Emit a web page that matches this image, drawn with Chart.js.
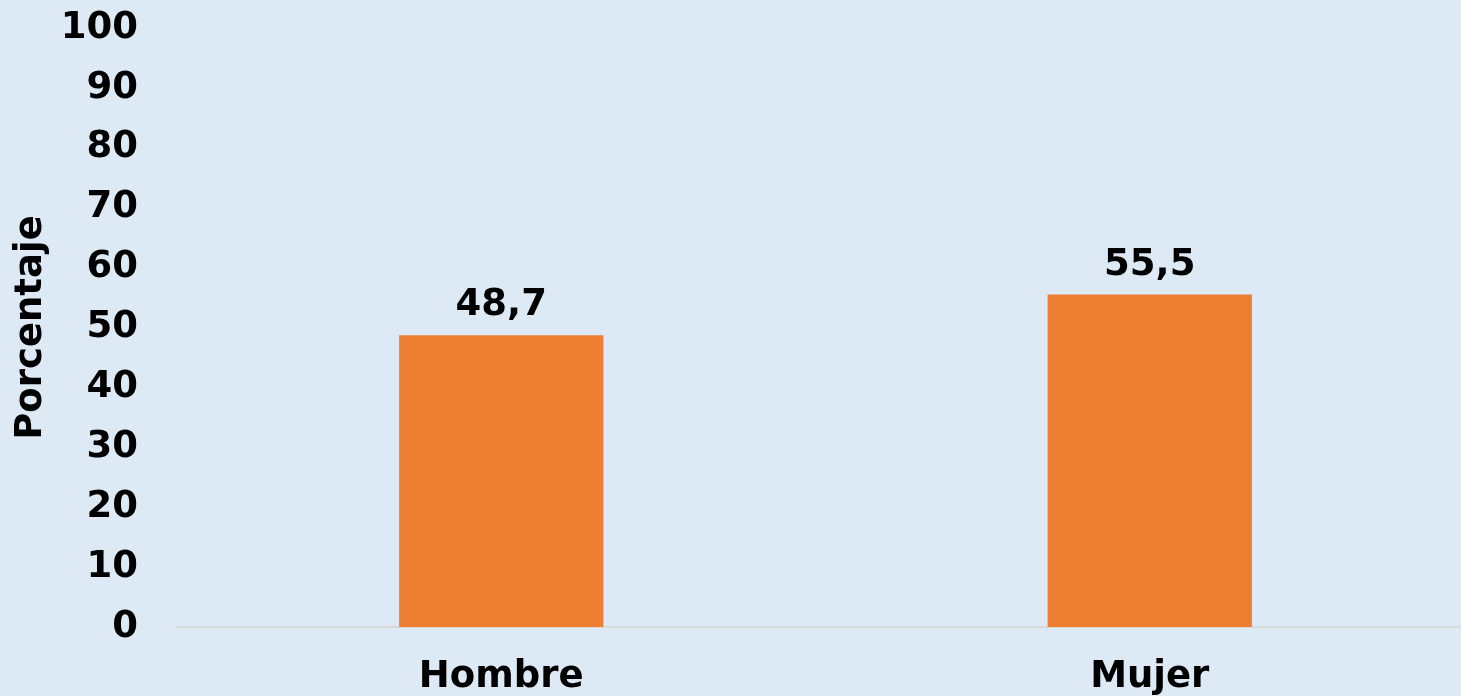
<!DOCTYPE html>
<html>
<head>
<meta charset="utf-8">
<script src="https://cdn.jsdelivr.net/npm/chart.js@4"></script>
<style>
  html, body { margin: 0; padding: 0; overflow: hidden; background: #DDEAF6; }
  #wrap { width: 1474px; height: 696px; }
</style>
</head>
<body>
<div id="wrap"><canvas id="chart"></canvas></div>
<script>
// datos
const categories = ["Hombre", "Mujer"];
const values = [48.7, 55.5];
const yTicks = [0, 10, 20, 30, 40, 50, 60, 70, 80, 90, 100];

const FONT = "'DejaVu Sans', Verdana, sans-serif";

// etiquetas encima de las barras
const valueLabels = {
  id: "valueLabels",
  afterDatasetsDraw(chart) {
    const ctx = chart.ctx;
    const meta = chart.getDatasetMeta(0);
    ctx.save();
    ctx.font = "bold 37px " + FONT;
    ctx.fillStyle = "#000";
    ctx.textAlign = "center";
    ctx.textBaseline = "alphabetic";
    meta.data.forEach((bar, i) => {
      ctx.fillText(values[i].toFixed(1).replace(".", ","), bar.x, bar.y - 20);
    });
    ctx.restore();
  }
};

new Chart(document.getElementById("chart"), {
  type: "bar",
  data: {
    labels: categories,
    datasets: [{
      data: values,
      backgroundColor: "#ED7D31",
      categoryPercentage: 1,
      barPercentage: 0.315
    }]
  },
  options: {
    responsive: true,
    maintainAspectRatio: false,
    animation: false,
    layout: { padding: { left: 9, top: 0, right: 0, bottom: 0 } },
    plugins: {
      legend: { display: false },
      tooltip: { enabled: false }
    },
    scales: {
      x: {
        grid: { display: false, drawTicks: false },
        border: { display: true, color: "#D9D9D9", width: 2 },
        ticks: {
          color: "#000",
          padding: 32,
          font: { family: FONT, size: 37, weight: "bold", lineHeight: 1 }
        },
        afterFit: axis => { axis.height = 69; }
      },
      y: {
        min: 0,
        max: 100,
        afterBuildTicks: axis => { axis.ticks = yTicks.map(v => ({ value: v })); },
        grid: { display: false, drawTicks: false },
        border: { display: false },
        ticks: {
          color: "#000",
          padding: 39,
          font: { family: FONT, size: 37, weight: "bold" }
        },
        title: {
          display: true,
          text: "Porcentaje",
          color: "#000",
          padding: { top: 0, bottom: 4 },
          font: { family: FONT, size: 37, weight: "bold" }
        },
        afterFit: axis => {
          axis.width = 168;
          axis.paddingTop = 28;
          axis.paddingBottom = 0;
        }
      }
    }
  },
  plugins: [valueLabels]
});
</script>
</body>
</html>
